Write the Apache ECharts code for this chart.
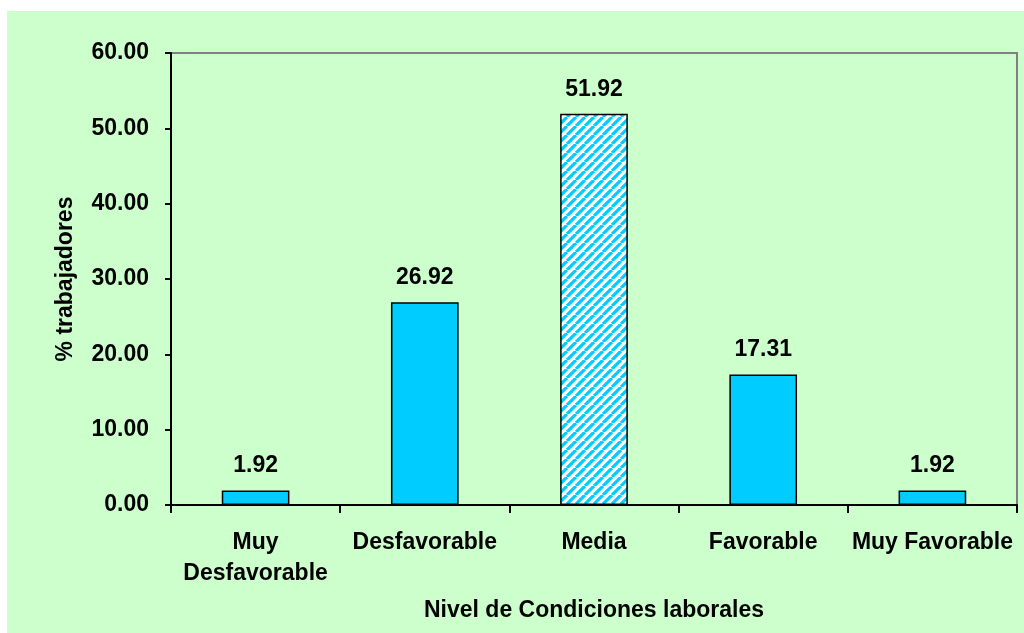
<!DOCTYPE html>
<html>
<head>
<meta charset="utf-8">
<script src="https://cdn.jsdelivr.net/npm/echarts@6/dist/echarts.min.js"></script>
<style>
  html, body { margin: 0; padding: 0; background: #ffffff; }
  #chart { width: 1024px; height: 633px; }
</style>
</head>
<body>
<div id="chart"></div>
<script>
// Working-conditions level distribution
const categories = ['Muy\nDesfavorable', 'Desfavorable', 'Media', 'Favorable', 'Muy Favorable'];
const percentWorkers = [1.92, 26.92, 51.92, 17.31, 1.92];
const yTicks = { min: 0, max: 60, interval: 10 };
const highlightIndex = 2; // hatched bar

const FONT = 'Liberation Sans, Arial, sans-serif';
const FS = 23;

// Diagonal cyan/white stripe pattern for the highlighted bar
function makeStripes() {
  const s = 9;
  const c = document.createElement('canvas');
  c.width = s; c.height = s;
  const g = c.getContext('2d');
  g.fillStyle = '#ffffff';
  g.fillRect(0, 0, s, s);
  g.strokeStyle = '#00ccff';
  g.lineWidth = 3.2;
  g.beginPath();
  for (let k = -1; k <= 1; k++) {
    g.moveTo(k * s, s);
    g.lineTo(k * s + s, 0);
  }
  g.stroke();
  return c;
}
const stripes = makeStripes();

const barData = percentWorkers.map((v, i) => ({
  value: v,
  itemStyle: i === highlightIndex
    ? { color: { image: stripes, repeat: 'repeat' } }
    : { color: '#00ccff' }
}));

const textBase = {
  fontFamily: FONT, fontWeight: 'bold', fontSize: FS, color: '#000'
};

const chart = echarts.init(document.getElementById('chart'), null, { renderer: 'canvas' });
chart.setOption({
  animation: false,
  backgroundColor: 'transparent',
  graphic: [{
    type: 'rect',
    z: -10,
    silent: true,
    shape: { x: 7, y: 11, width: 1017, height: 622 },
    style: { fill: '#ccffcc' }
  }],
  grid: {
    left: 171, right: 7, top: 53, bottom: 128,
    show: true,
    borderColor: '#808080',
    borderWidth: 2,
    backgroundColor: 'transparent'
  },
  xAxis: {
    type: 'category',
    data: categories,
    boundaryGap: true,
    name: 'Nivel de Condiciones laborales',
    nameLocation: 'middle',
    nameGap: 94,
    nameTextStyle: Object.assign({}, textBase),
    axisLine: { lineStyle: { color: '#000', width: 2 } },
    axisTick: { show: true, length: 8, alignWithLabel: false, lineStyle: { color: '#000', width: 2 } },
    axisLabel: Object.assign({}, textBase, { margin: 22, lineHeight: 31, interval: 0 }),
    splitLine: { show: false }
  },
  yAxis: {
    type: 'value',
    min: yTicks.min, max: yTicks.max, interval: yTicks.interval,
    name: '% trabajadores',
    nameLocation: 'middle',
    nameGap: 94,
    nameRotate: 90,
    nameTextStyle: Object.assign({}, textBase),
    axisLine: { show: true, lineStyle: { color: '#000', width: 2 } },
    axisTick: { show: true, length: 6, lineStyle: { color: '#000', width: 2 } },
    axisLabel: Object.assign({}, textBase, {
      margin: 22,
      formatter: v => v.toFixed(2)
    }),
    splitLine: { show: false }
  },
  series: [{
    type: 'bar',
    data: barData,
    barWidth: '40%',
    itemStyle: { borderColor: '#000', borderWidth: 1.5 },
    label: Object.assign({}, textBase, {
      show: true,
      position: 'top',
      distance: 13,
      formatter: p => p.value.toFixed(2)
    })
  }]
});
</script>
</body>
</html>
